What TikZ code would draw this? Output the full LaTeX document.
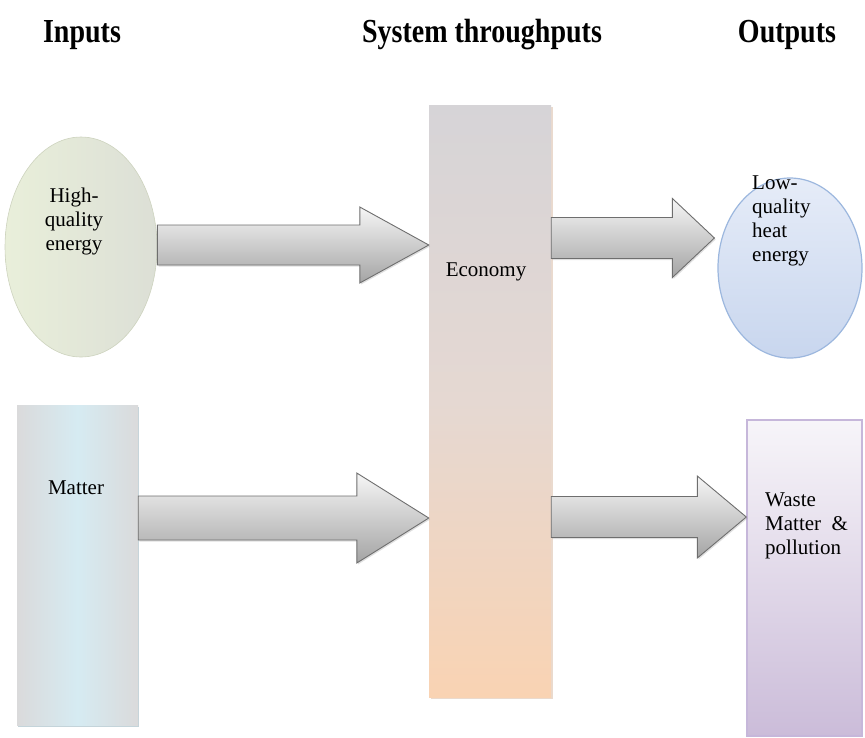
\documentclass[tikz,border=0pt]{standalone}
\usepackage{fontspec}
\setmainfont{Liberation Serif}
\usetikzlibrary{shapes.geometric,calc,shadows}

\definecolor{arrowedge}{HTML}{6E6E6E}
\definecolor{arrowtop}{HTML}{F6F6F6}
\definecolor{arrowbot}{HTML}{A4A4A4}
\definecolor{greenA}{HTML}{E9EFDA}
\definecolor{greenB}{HTML}{DCDFD6}
\definecolor{greenEdge}{HTML}{CDD3BE}
\definecolor{econTop}{HTML}{D6D4D7}
\definecolor{econMid}{HTML}{E5D8D2}
\definecolor{econBot}{HTML}{F9D3B3}
\definecolor{econShadow}{HTML}{DCC2AE}
\definecolor{matterMid}{HTML}{D6EBF2}
\definecolor{matterSide}{HTML}{DADADB}
\definecolor{matterShadow}{HTML}{9DB7C2}
\definecolor{blueTop}{HTML}{E6ECF8}
\definecolor{blueBot}{HTML}{C8D6EE}
\definecolor{blueEdge}{HTML}{9CB7DE}
\definecolor{lilacTop}{HTML}{F7F5F9}
\definecolor{lilacBot}{HTML}{CBBCD9}
\definecolor{lilacEdge}{HTML}{C6B7DA}

\tikzset{
  heading/.style={font=\fontsize{28}{30}\selectfont\bfseries, anchor=base, inner sep=0pt},
  body/.style={font=\fontsize{21}{24}\selectfont, inner sep=0pt, text=black},
  blockarrow/.style={draw=arrowedge, line width=0.9pt, line join=miter,
    top color=arrowtop, bottom color=arrowbot,
    drop shadow={shadow xshift=1.2pt, shadow yshift=-1.5pt, opacity=0.25}},
  boxshape/.style={rectangle, inner sep=0pt},
  ovalshape/.style={ellipse, inner sep=0pt},
}

% block arrow: #1 tail point, #2 tip point, #3 shaft half-height,
% #4 head half-height, #5 head length
\newcommand\blockarrow[5]{%
  \draw[blockarrow] ($(#1)+(0,-#3)$) -- ($(#2)+(-#5,-#3)$) -- ($(#2)+(-#5,-#4)$)
    -- (#2) -- ($(#2)+(-#5,#4)$) -- ($(#2)+(-#5,#3)$) -- ($(#1)+(0,#3)$) -- cycle;}

\begin{document}
\begin{tikzpicture}[x=1pt,y=-1pt]
\useasboundingbox (0,0) rectangle (865,737);

% column headings
\node[heading] (hIn)  at (82,42)  {\scalebox{1}[1.2]{Inputs}};
\node[heading] (hSys) at (482,42) {\scalebox{1}[1.2]{System throughputs}};
\node[heading] (hOut) at (787,42) {\scalebox{1}[1.2]{Outputs}};

% shapes
\node[ovalshape, minimum width=152pt, minimum height=220pt,
      left color=greenA, right color=greenB, draw=greenEdge, line width=0.6pt]
      (hq) at (81,247) {};
\node[boxshape, minimum width=122pt, minimum height=592pt,
      top color=econTop, bottom color=econBot, middle color=econMid,
      drop shadow={shadow xshift=2pt, shadow yshift=-2pt, opacity=0.6, fill=econShadow}]
      (econ) at (490,401) {};
\node[boxshape, minimum width=121pt, minimum height=320pt,
      left color=matterSide, right color=matterSide, middle color=matterMid,
      drop shadow={shadow xshift=1pt, shadow yshift=-2pt, opacity=0.6, fill=matterShadow}]
      (matter) at (77.5,565) {};
\node[ovalshape, minimum width=144pt, minimum height=180pt,
      top color=blueTop, bottom color=blueBot, draw=blueEdge, line width=1.2pt]
      (lq) at (790,268) {};
\node[boxshape, minimum width=115pt, minimum height=316pt,
      top color=lilacTop, bottom color=lilacBot, draw=lilacEdge, line width=1.4pt]
      (waste) at (804.5,578) {};

% texts
\node[body, align=center, anchor=north] (hqText) at (74,188) {High-\\quality\\energy};
\node[body] (econText) at (486,272) {Economy};
\node[body] (matterText) at (76,488) {Matter};
\node[body, align=left, anchor=north west] (lqText) at (752,176) {Low-\\quality\\heat\\energy};
\node[body, align=left, anchor=north west] (wasteText) at (765,493) {Waste\\Matter\ \ \&\\pollution};

% levels of the block arrows
\coordinate (yA) at (0,245);
\coordinate (yB) at (0,238);
\coordinate (yC) at (0,518);
\coordinate (yD) at (0,517);

\blockarrow{hq.east |- yA}{econ.west |- yA}{20}{38}{69}
\blockarrow{econ.east |- yB}{$(lq.west |- yB)+(-3,0)$}{20.5}{39.5}{42}
\blockarrow{matter.east |- yC}{econ.west |- yC}{22}{45}{72}
\blockarrow{econ.east |- yD}{waste.west |- yD}{20.5}{41}{49}

\end{tikzpicture}
\end{document}
